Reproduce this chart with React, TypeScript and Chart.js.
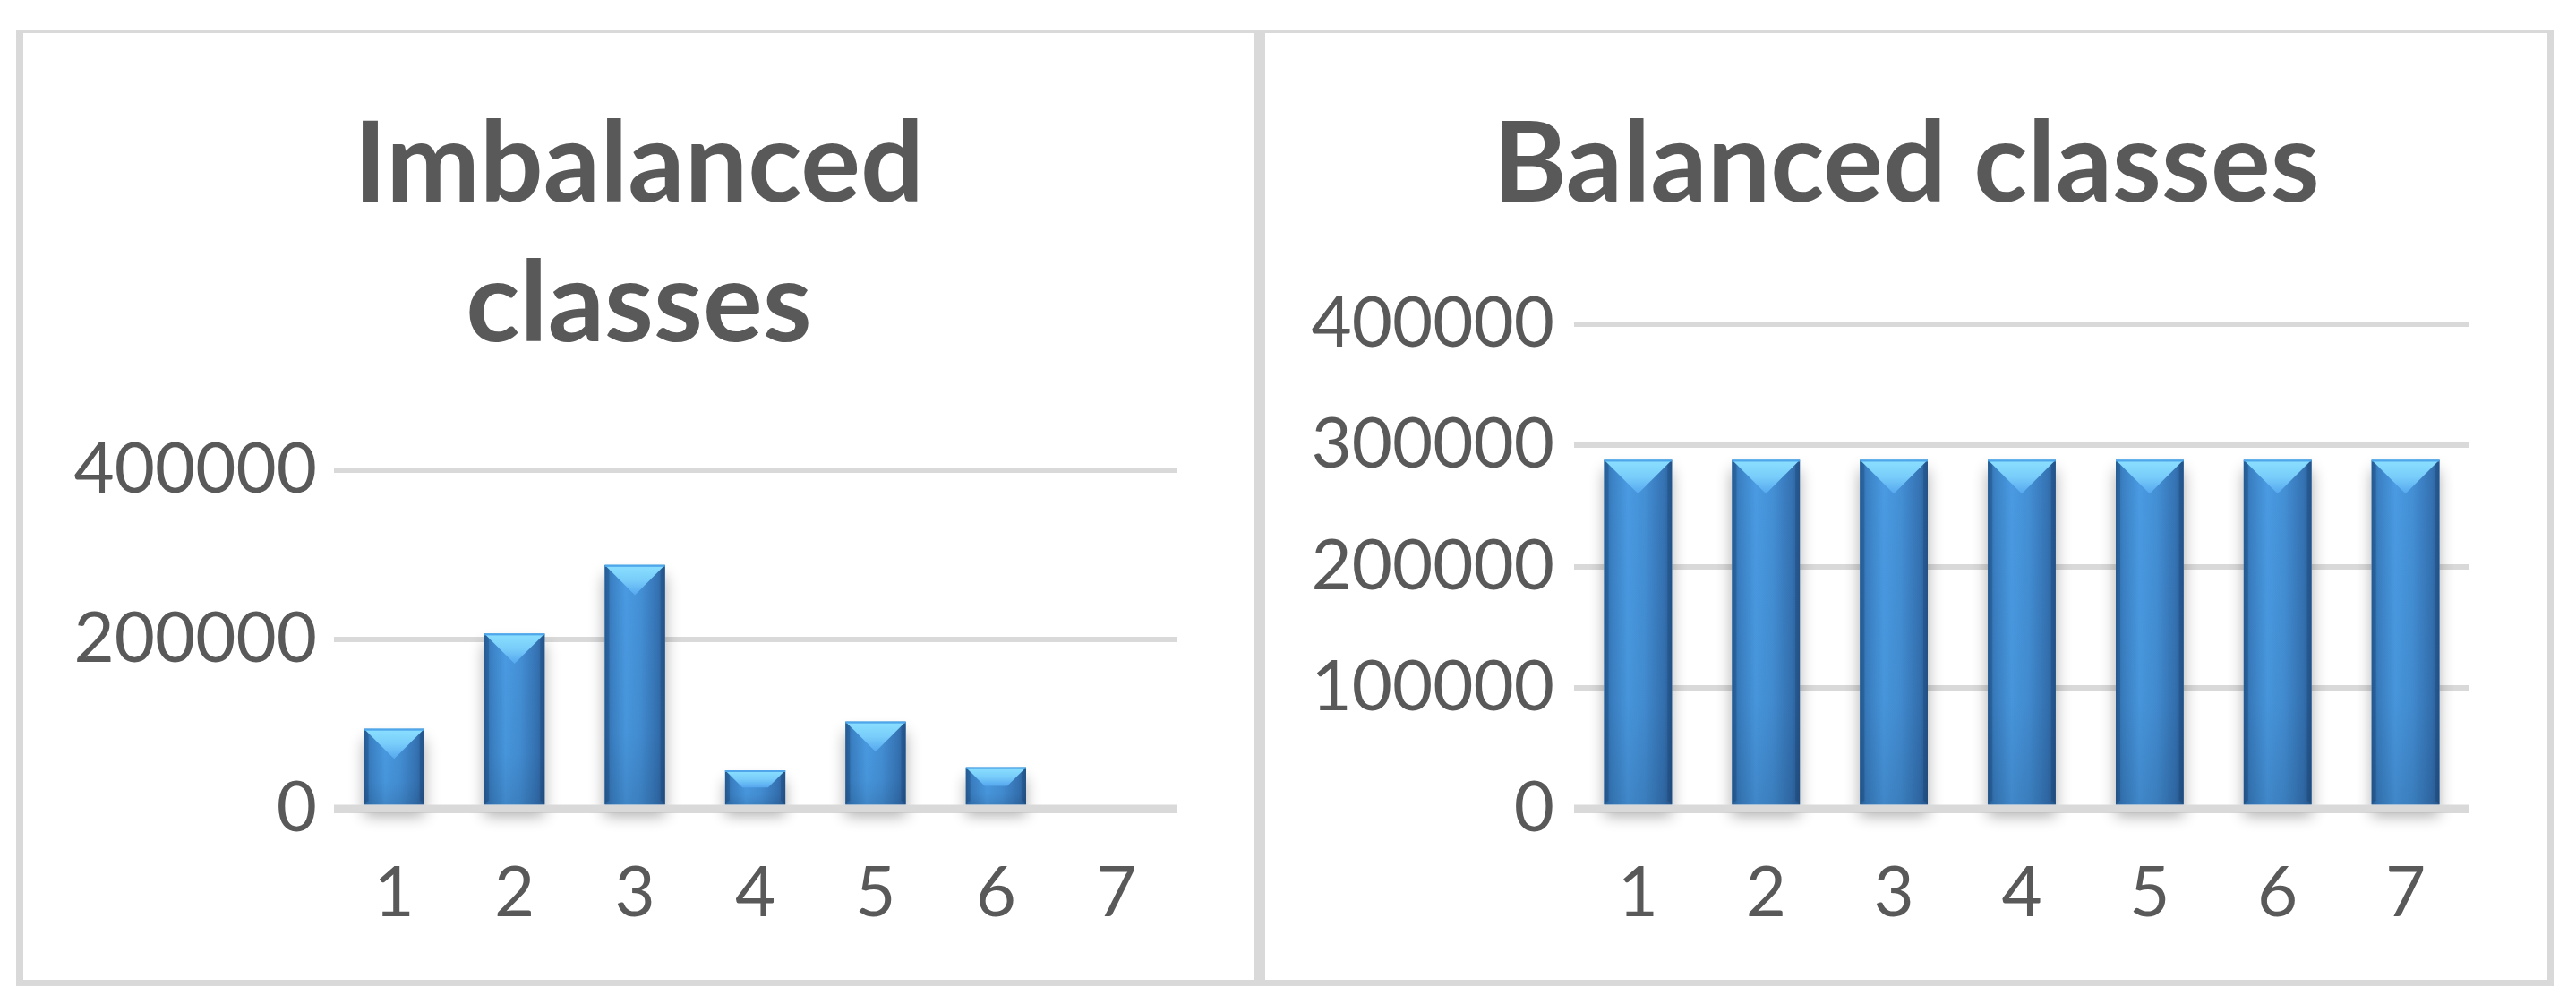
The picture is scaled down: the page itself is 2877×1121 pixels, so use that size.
import React, { useEffect, useRef } from 'react';
import { Chart, registerables } from 'chart.js';

Chart.register(...registerables);

// ---------- data ----------
const categories = ['1', '2', '3', '4', '5', '6', '7'];
const imbalancedCounts = [94500, 207000, 288000, 45500, 103000, 49000, 0];
const balancedCounts = [288000, 288000, 288000, 288000, 288000, 288000, 288000];
const imbalancedTitle = ['Imbalanced', 'classes'];
const balancedTitle = ['Balanced classes'];
const imbalancedTickStep = 200000;
const balancedTickStep = 100000;
const axisMax = 400000;

// ---------- styling ----------
const TEXT = '#595959';
const GRID = '#d9d9d9';
const FONT = "Lato, 'Open Sans', 'Liberation Sans', sans-serif";

const bevelPlugin = {
  id: 'bevel',
  beforeDatasetsDraw(chart: any) {
    const ctx = chart.ctx;
    const meta = chart.getDatasetMeta(0);
    ctx.save();
    meta.data.forEach((el: any) => {
      const { x, y, base, width } = el.getProps(['x', 'y', 'base', 'width'], true);
      const h = base - y;
      if (h < 1) return;
      ctx.shadowColor = 'rgba(0,0,0,0.32)';
      ctx.shadowBlur = 16;
      ctx.shadowOffsetY = 4;
      ctx.fillStyle = '#ffffff';
      ctx.fillRect(x - width / 2, y + 8, width, h);
    });
    ctx.restore();
  },
  afterDatasetsDraw(chart: any) {
    const ctx = chart.ctx;
    const meta = chart.getDatasetMeta(0);
    const area = chart.chartArea;
    ctx.save();
    meta.data.forEach((el: any) => {
      const { x, y, base, width } = el.getProps(['x', 'y', 'base', 'width'], true);
      const h = base - y;
      if (h < 1) return;
      const L = x - width / 2;
      const R = x + width / 2;
      const T = y;
      const B = base;
      // body
      const g = ctx.createLinearGradient(L, 0, R, 0);
      g.addColorStop(0, '#2c68a4');
      g.addColorStop(0.1, '#3a80c3');
      g.addColorStop(0.35, '#4a9be3');
      g.addColorStop(0.6, '#4490d6');
      g.addColorStop(0.88, '#3573b4');
      g.addColorStop(1, '#2a5d95');
      ctx.fillStyle = g;
      ctx.fillRect(L, T, width, h);
      // vertical darkening toward bottom
      const g2 = ctx.createLinearGradient(0, T, 0, B);
      g2.addColorStop(0, 'rgba(10,30,60,0)');
      g2.addColorStop(0.7, 'rgba(10,30,60,0.05)');
      g2.addColorStop(1, 'rgba(10,30,60,0.16)');
      ctx.fillStyle = g2;
      ctx.fillRect(L, T, width, h);
      // side facets
      const e = Math.min(5, width / 6, h / 4);
      ctx.fillStyle = 'rgba(15,45,85,0.22)';
      ctx.beginPath();
      ctx.moveTo(L, T); ctx.lineTo(L + e, T + e); ctx.lineTo(L + e, B - e); ctx.lineTo(L, B); ctx.closePath();
      ctx.fill();
      ctx.beginPath();
      ctx.moveTo(R, T); ctx.lineTo(R - e, T + e); ctx.lineTo(R - e, B - e); ctx.lineTo(R, B); ctx.closePath();
      ctx.fill();
      // top facet (chevron)
      const d = Math.min(width / 2, h / 2);
      const g3 = ctx.createLinearGradient(0, T, 0, T + d);
      g3.addColorStop(0, '#8be0ff');
      g3.addColorStop(0.5, '#78cdfa');
      g3.addColorStop(1, '#55a7ee');
      ctx.fillStyle = g3;
      ctx.beginPath();
      ctx.moveTo(L, T); ctx.lineTo(R, T); ctx.lineTo(R - d, T + d); ctx.lineTo(L + d, T + d); ctx.closePath();
      ctx.fill();
      ctx.fillStyle = '#4fa6ea';
      ctx.fillRect(L, T, width, 2);
    });
    // zero line on top of bar bases
    const yz = chart.scales.y.getPixelForValue(0);
    ctx.fillStyle = GRID;
    ctx.fillRect(area.left, yz - 4.5, area.right - area.left, 9);
    ctx.restore();
  },
};

type PanelProps = {
  values: number[];
  title: string[];
  step: number;
  width: number;
  height: number;
  axisWidth: number;
  rightGap: number;
  labelGap: number;
  titlePadTop: number;
  titlePadBottom: number;
  barPct: number;
};

function BarPanel(p: PanelProps) {
  const ref = useRef<HTMLCanvasElement>(null);
  useEffect(() => {
    if (!ref.current) return;
    const titleSize = 125;
    const chart = new Chart(ref.current, {
      type: 'bar',
      data: {
        labels: categories,
        datasets: [
          {
            data: p.values,
            backgroundColor: '#3d86c9',
            borderWidth: 0,
            barPercentage: p.barPct,
            categoryPercentage: 1,
          },
        ],
      },
      options: {
        responsive: false,
        animation: false,
        devicePixelRatio: 1,
        layout: { padding: 0 },
        plugins: {
          legend: { display: false },
          tooltip: { enabled: false },
          title: {
            display: true,
            text: p.title,
            color: TEXT,
            font: { family: FONT, weight: 'bold', size: titleSize, lineHeight: 156 / titleSize },
            padding: { top: p.titlePadTop, bottom: p.titlePadBottom },
          },
        },
        scales: {
          x: {
            type: 'category',
            grid: { display: false, drawTicks: false },
            border: { display: false },
            ticks: {
              color: TEXT,
              font: { family: FONT, size: 78, lineHeight: 1.2 },
              padding: 48,
              maxRotation: 0,
              autoSkip: false,
            },
            afterFit: (s: any) => {
              s.height = 191;
            },
          },
          y: {
            type: 'linear',
            min: 0,
            max: axisMax,
            grid: {
              color: GRID,
              drawTicks: false,
              lineWidth: (c: any) => (c.tick && c.tick.value === 0 ? 9 : 6),
            },
            border: { display: false },
            ticks: {
              stepSize: p.step,
              color: TEXT,
              font: { family: FONT, size: 78 },
              padding: p.labelGap,
              callback: (v: any) => String(v),
            },
            afterFit: (s: any) => {
              s.width = p.axisWidth;
            },
          },
          pad: {
            type: 'linear',
            position: 'right',
            display: true,
            grid: { display: false, drawTicks: false },
            border: { display: false },
            ticks: { display: false },
            afterFit: (s: any) => {
              s.width = p.rightGap;
            },
          },
        },
      } as any,
      plugins: [bevelPlugin],
    });
    return () => chart.destroy();
  }, []);
  return (
    <canvas
      ref={ref}
      width={p.width}
      height={p.height}
      style={{ width: p.width, height: p.height, display: 'block' }}
    />
  );
}

export default function App() {
  return (
    <div
      style={{
        position: 'absolute',
        left: 0,
        top: 0,
        width: 2877,
        height: 1121,
        background: '#ffffff',
        overflow: 'hidden',
      }}
    >
      <div
        style={{
          position: 'absolute',
          left: 18,
          top: 33,
          width: 1389,
          height: 1068,
          boxSizing: 'border-box',
          borderStyle: 'solid',
          borderColor: GRID,
          borderWidth: '4px 6px 7px 8px',
        }}
      >
        <BarPanel
          values={imbalancedCounts}
          title={imbalancedTitle}
          step={imbalancedTickStep}
          width={1375}
          height={1057}
          axisWidth={347}
          rightGap={87}
          labelGap={19}
          titlePadTop={70}
          titlePadBottom={106}
          barPct={0.5}
        />
      </div>
      <div
        style={{
          position: 'absolute',
          left: 1407,
          top: 33,
          width: 1445,
          height: 1068,
          boxSizing: 'border-box',
          borderStyle: 'solid',
          borderColor: GRID,
          borderWidth: '4px 7px 7px 6px',
        }}
      >
        <BarPanel
          values={balancedCounts}
          title={balancedTitle}
          step={balancedTickStep}
          width={1432}
          height={1057}
          axisWidth={345}
          rightGap={87}
          labelGap={22}
          titlePadTop={70}
          titlePadBottom={99}
          barPct={0.53}
        />
      </div>
    </div>
  );
}
